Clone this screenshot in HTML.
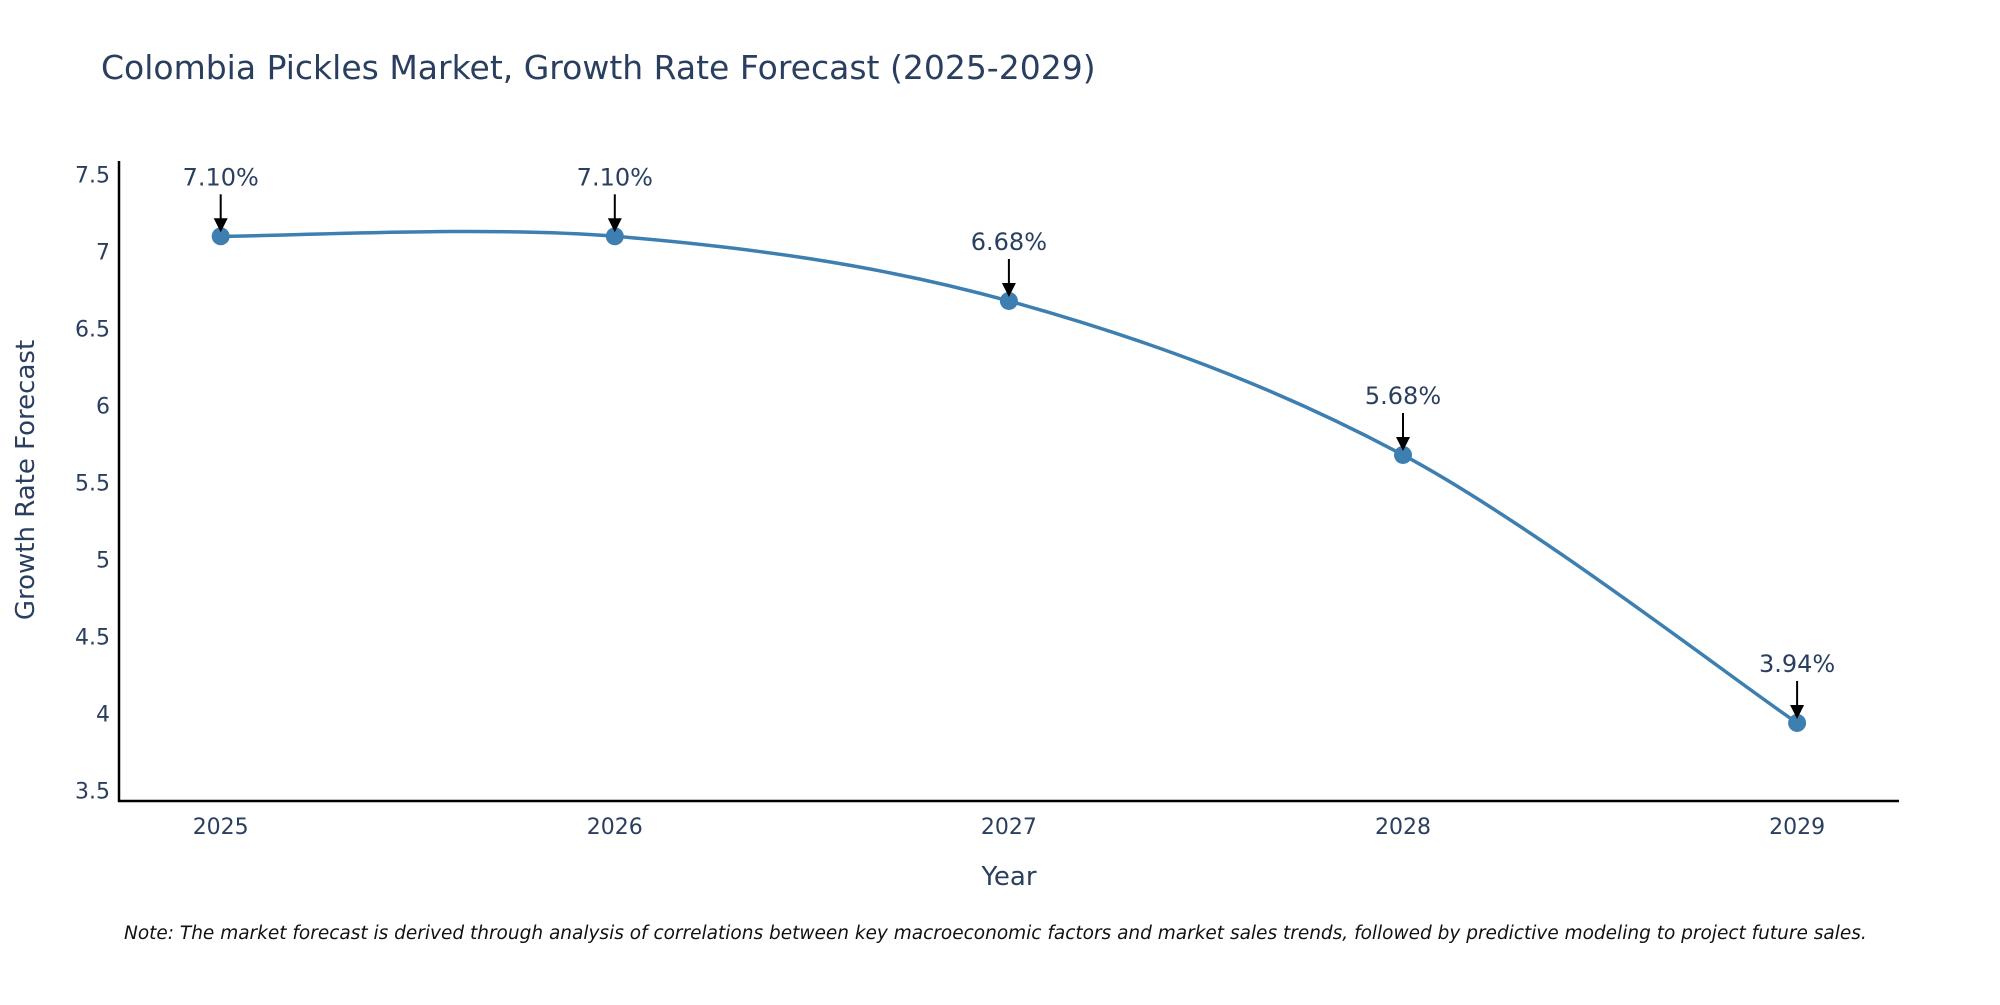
<!DOCTYPE html>
<html><head><meta charset="utf-8"><style>
body{margin:0;background:#fff;}
svg text{font-family:"DejaVu Sans","Liberation Sans",sans-serif;fill:#2a3f5f;}
</style></head><body>
<svg id="chart" width="2000" height="1000" xmlns="http://www.w3.org/2000/svg">
<text x="101" y="79" font-size="33">Colombia Pickles Market, Growth Rate Forecast (2025-2029)</text>
<g id="yticks"></g>
<g id="xticks"></g>
<line x1="119" y1="161" x2="119" y2="802" stroke="#000" stroke-width="2.5"/>
<line x1="118" y1="801" x2="1899" y2="801" stroke="#000" stroke-width="2.5"/>
<path id="line" fill="none" stroke="#3d7fb0" stroke-width="3.5"/>
<g id="marks"></g>
<text transform="translate(34,480) rotate(-90)" text-anchor="middle" font-size="26">Growth Rate Forecast</text>
<text x="1009" y="885" text-anchor="middle" font-size="26">Year</text>
<text x="124" y="939" font-size="18.5" font-style="italic" style="fill:#111">Note: The market forecast is derived through analysis of correlations between key macroeconomic factors and market sales trends, followed by predictive modeling to project future sales.</text>
</svg>
<script>
const years = [2025, 2026, 2027, 2028, 2029];
const growth = [7.10, 7.10, 6.68, 5.68, 3.94];
const labels = ["7.10%", "7.10%", "6.68%", "5.68%", "3.94%"];
const yTicks = [3.5, 4, 4.5, 5, 5.5, 6, 6.5, 7, 7.5];
const NS = "http://www.w3.org/2000/svg";
const x = v => 220.7 + (v - 2025) * 394.1;
const y = v => 174.7 + (7.5 - v) * 154;
function mk(tag, attrs, parent){const e=document.createElementNS(NS,tag);for(const k in attrs)e.setAttribute(k,attrs[k]);parent.appendChild(e);return e;}
const yt=document.getElementById('yticks');
yTicks.forEach(t=>{const e=mk('text',{x:110,y:y(t)+8,'text-anchor':'end','font-size':'22'},yt);


e.textContent=String(t);});
const xt=document.getElementById('xticks');
years.forEach(t=>{const e=mk('text',{x:x(t),y:834,'text-anchor':'middle','font-size':'22'},xt);


e.textContent=String(t);});
const P=years.map((yr,i)=>[x(yr),y(growth[i])]);
let d=`M${P[0][0]},${P[0][1]}`;const s=1/6;
for(let i=0;i<P.length-1;i++){const p0=P[Math.max(i-1,0)],p1=P[i],p2=P[i+1],p3=P[Math.min(i+2,P.length-1)];
d+=` C${p1[0]+(p2[0]-p0[0])*s},${p1[1]+(p2[1]-p0[1])*s} ${p2[0]-(p3[0]-p1[0])*s},${p2[1]-(p3[1]-p1[1])*s} ${p2[0]},${p2[1]}`;}
document.getElementById('line').setAttribute('d',d);
const g=document.getElementById('marks');
P.forEach((p,i)=>{
const c=mk('circle',{cx:p[0],cy:p[1],r:9,fill:'#3d7fb0'},g);


const l=mk('line',{x1:p[0],y1:p[1]-42,x2:p[0],y2:p[1]-14,stroke:'#000','stroke-width':2},g);


const h=mk('polygon',{points:`${p[0]-7},${p[1]-18} ${p[0]+7},${p[1]-18} ${p[0]},${p[1]-4}`,fill:'#000'},g);


const t=mk('text',{x:p[0],y:p[1]-51,'text-anchor':'middle','font-size':'24'},g);


t.textContent=labels[i];
});
</script>
</body></html>
